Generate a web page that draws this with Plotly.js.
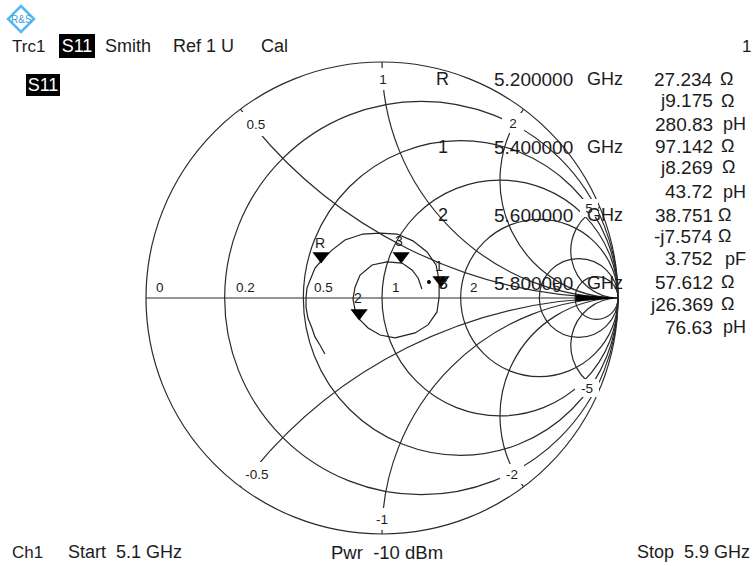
<!DOCTYPE html>
<html>
<head>
<meta charset="utf-8">
<script src="https://cdn.plot.ly/plotly-3.0.1.min.js"></script>
<style>html,body{margin:0;padding:0;background:#fff}#chart{width:756px;height:566px}</style>
</head>
<body>
<div id="chart"></div>
<script>
// S11 trace, reflection coefficient (5.1 GHz to 5.9 GHz)
var gammaRe = [-.242,-.263,-.284,-.297,-.314,-.322,-.322,-.318,-.301,-.284,-.254,-.212,-.157,-.081,-.008,.064,.131,.191,.229,.242,.242,.233,.195,.140,.055,-.008,-.059,-.093,-.114,-.123,-.114,-.093,-.042,.021,.085,.127,.153,.169];
var gammaIm = [-.237,-.199,-.165,-.127,-.085,-.038,0,.042,.085,.127,.161,.203,.246,.271,.275,.271,.242,.195,.140,.076,.004,-.059,-.114,-.148,-.169,-.157,-.127,-.093,-.051,-.004,.047,.097,.140,.153,.148,.119,.085,.038];
// Marker triangles
var markerNames = ['R','1','2','3'];
var markerRe = [-.258,.250,-.097,.081];
var markerIm = [.178,.076,-.064,.178];
// Small dot near the trace end
var dotRe = [.199];
var dotIm = [.068];
// Dense grid convergence near the open-circuit point
var wedgeRe = [.82,.98,.82];
var wedgeIm = [.012,0,-.012];
// Smith grid
var realTicks = [.2,.5,1,2,5,10];
var imagTicks = [-5,-2,-1,-.5,.5,1,2,5];
// Readout table
var readFreq = ['5.200000','5.400000','5.600000','5.800000'];
var readName = ['R','1','2','3'];
var readVal = ['27.234','j9.175','280.83','97.142','j8.269','43.72','38.751','-j7.574','3.752','57.612','j26.369','76.63'];
var readUnit = ['Ω','Ω','pH','Ω','Ω','pH','Ω','Ω','pF','Ω','Ω','pH'];

var W = 756, H = 566, CX = 382, CY = 298, RAD = 236, DARK = '#1c1c1c';
function toZ(re, im) {
  var d = (1 - re) * (1 - re) + im * im;
  return { r: (1 - re * re - im * im) / d, x: 2 * im / d };
}
function zs(reArr, imArr) {
  var z = reArr.map(function (v, i) { return toZ(v, imArr[i]); });
  return { real: z.map(function (p) { return p.r; }), imag: z.map(function (p) { return p.x; }) };
}
var ann = [];
function label(txt, x, y, size, opt) {
  opt = opt || {};
  var a = {
    text: txt, xref: 'paper', yref: 'paper', x: x / W, y: 1 - y / H,
    showarrow: false, xanchor: opt.anchor || 'center', yanchor: 'middle',
    font: { family: 'Liberation Sans, Arial, sans-serif', size: size, color: opt.color || DARK },
    borderpad: 0, borderwidth: 0
  };
  if (opt.bg) { a.bgcolor = opt.bg; a.width = opt.w; a.height = opt.h; a.align = 'center'; a.valign = 'middle'; }
  ann.push(a);
}
// grid labels; the imaginary ones mask the arcs underneath
[['0',160,287],['0.2',245,287],['0.5',323,287],['1',396,287],['2',474,287],['5',557,287]].forEach(function (l) { label(l[0], l[1], l[2], 13.5); });
[['0.5',256,124,30,24],['1',383,79,14,22],['2',513,123,22,20],['5',589,208,18,18],
 ['-0.5',257,474,32,24],['-1',382,519,16,22],['-2',512,474,24,20],['-5',587,388,24,18]].forEach(function (l) {
  label(l[0], l[1], l[2], 13.5, { bg: '#ffffff', w: l[3], h: l[4] });
});
// marker labels
[['R',320,243],['3',399,241],['2',358,298],['1',439,266]].forEach(function (l) { label(l[0], l[1], l[2], 14); });
// header
label('Trc1', 12, 46, 17, { anchor: 'left' });
label('S11', 77, 46, 18, { bg: '#000000', color: '#ffffff', w: 36, h: 24 });
label('Smith', 105, 46, 18, { anchor: 'left' });
label('Ref 1 U', 173, 46, 18, { anchor: 'left' });
label('Cal', 261, 46, 18, { anchor: 'left' });
label('1', 746, 46, 17);
label('S11', 43, 85, 18, { bg: '#000000', color: '#ffffff', w: 34, h: 22 });
// footer
label('Ch1', 12, 552, 17, { anchor: 'left' });
label('Start  5.1 GHz', 68, 552, 18, { anchor: 'left' });
label('Pwr  -10 dBm', 331, 552, 18.5, { anchor: 'left' });
label('Stop  5.9 GHz', 637, 552, 18, { anchor: 'left' });
// readout
var rowY = [79,147,215,283];
readFreq.forEach(function (f, i) {
  label(readName[i], 443, rowY[i], 18);
  label(f, 494, rowY[i], 19, { anchor: 'left' });
  label('GHz', 587, rowY[i], 18, { anchor: 'left' });
});
var valY = [79,101,124,146,167,192,215,236,259,282,304,327];
var unitX = [720,721,723,721,722,723,718,718,725,721,721,723];
readVal.forEach(function (v, i) {
  label(v, 713, valY[i], 19, { anchor: 'right' });
  label(readUnit[i], unitX[i], valY[i], 18, { anchor: 'left' });
});
// logo
label('R&amp;S', 21, 19, 10, { color: '#3aa0dc' });

function px(x) { return x / W; }
function py(y) { return 1 - y / H; }
var trace = zs(gammaRe, gammaIm), marks = zs(markerRe, markerIm), dot = zs(dotRe, dotIm), wedge = zs(wedgeRe, wedgeIm);

Plotly.newPlot('chart', [
  { type: 'scattersmith', mode: 'lines', real: wedge.real, imag: wedge.imag, fill: 'toself', fillcolor: '#000000', line: { color: '#000000', width: 1 }, showlegend: false },
  { type: 'scattersmith', mode: 'lines', real: trace.real, imag: trace.imag, line: { color: '#222222', width: 1.2 }, showlegend: false },
  { type: 'scattersmith', mode: 'markers', real: marks.real, imag: marks.imag, text: markerNames,
    marker: { symbol: 'triangle-down', size: 15, color: '#000000' }, showlegend: false },
  { type: 'scattersmith', mode: 'markers', real: dot.real, imag: dot.imag,
    marker: { symbol: 'circle', size: 4, color: '#000000' }, showlegend: false }
], {
  width: W, height: H, margin: { l: 0, r: 0, t: 0, b: 0 }, paper_bgcolor: '#ffffff', showlegend: false,
  smith: {
    bgcolor: '#ffffff',
    domain: { x: [px(CX - RAD), px(CX + RAD)], y: [py(CY + RAD), py(CY - RAD)] },
    realaxis: { tickvals: realTicks, showticklabels: false, ticks: '', gridcolor: '#2a2a2a', gridwidth: 1.2, linecolor: '#2a2a2a', linewidth: 1.2, showline: true, layer: 'below traces' },
    imaginaryaxis: { tickvals: imagTicks, showticklabels: false, ticks: '', gridcolor: '#2a2a2a', gridwidth: 1.2, linecolor: '#2a2a2a', linewidth: 1.2, showline: true, layer: 'below traces' }
  },
  shapes: [
    { type: 'path', xref: 'paper', yref: 'paper',
      path: 'M ' + px(21) + ' ' + py(6) + ' L ' + px(34) + ' ' + py(19) + ' L ' + px(21) + ' ' + py(32) + ' L ' + px(8) + ' ' + py(19) + ' Z',
      line: { color: '#55b8ee', width: 2.5 }, fillcolor: 'rgba(0,0,0,0)' }
  ],
  annotations: ann
}, { displayModeBar: false, staticPlot: true });
</script>
</body>
</html>
